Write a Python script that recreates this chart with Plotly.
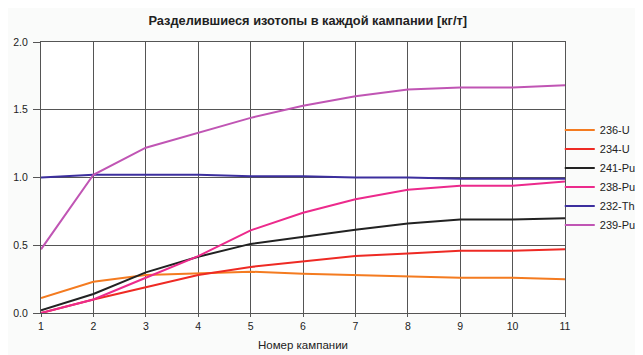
import plotly.graph_objects as go

campaigns = [1, 2, 3, 4, 5, 6, 7, 8, 9, 10, 11]
u236 = [0.11, 0.23, 0.28, 0.295, 0.305, 0.29, 0.28, 0.27, 0.26, 0.26, 0.25]
u234 = [0.0, 0.10, 0.19, 0.28, 0.34, 0.38, 0.42, 0.44, 0.46, 0.46, 0.47]
pu241 = [0.02, 0.14, 0.30, 0.415, 0.51, 0.565, 0.615, 0.66, 0.69, 0.69, 0.70]
pu238 = [0.0, 0.10, 0.26, 0.42, 0.61, 0.74, 0.84, 0.91, 0.94, 0.94, 0.97]
th232 = [1.0, 1.02, 1.02, 1.02, 1.01, 1.01, 1.0, 1.0, 0.99, 0.99, 0.99]
pu239 = [0.47, 1.02, 1.22, 1.33, 1.44, 1.53, 1.60, 1.65, 1.665, 1.665, 1.68]

series = [
    ("236-U", u236, "#f47b20"),
    ("234-U", u234, "#ee2a24"),
    ("241-Pu", pu241, "#222222"),
    ("238-Pu", pu238, "#ec2a8c"),
    ("232-Th", th232, "#3c2f9e"),
    ("239-Pu", pu239, "#c055b4"),
]

fig = go.Figure()
for name, vals, color in series:
    fig.add_trace(go.Scatter(x=campaigns, y=vals, name=name, mode="lines",
                             line=dict(color=color, width=2)))

# The page body adds an 8px margin, so the figure is sized to fit the window.
font = "Liberation Sans, Arial, sans-serif"
fig.update_layout(
    width=635, height=347,
    margin=dict(l=33, r=78, t=34, b=42, autoexpand=False),
    paper_bgcolor="#fafbfa",
    plot_bgcolor="#ffffff",
    font=dict(family=font, size=10.5, color="#222222"),
    title=dict(text="<b>Разделившиеся изотопы в каждой кампании [кг/т]</b>",
               x=0.472, xanchor="center", y=0.965, yanchor="middle",
               font=dict(size=12.8, color="#222222")),
    legend=dict(x=0.99, xanchor="left", y=0.5, yanchor="middle",
                bgcolor="rgba(0,0,0,0)", font=dict(size=11, color="#222222"),
                itemwidth=30, tracegroupgap=0),
    showlegend=True,
)
fig.update_xaxes(range=[1, 11], dtick=1, tick0=1, showgrid=True, gridcolor="#555555",
                 gridwidth=1, showline=True, linecolor="#555555", linewidth=1,
                 mirror=True, ticks="outside", ticklen=3, tickcolor="#555555",
                 zeroline=False,
                 title=dict(text="Номер кампании", font=dict(size=11.5), standoff=10))
fig.update_yaxes(range=[0, 2], dtick=0.5, tickformat=".1f", showgrid=True,
                 gridcolor="#555555", gridwidth=1, showline=True, linecolor="#555555",
                 linewidth=1, mirror=True, ticks="outside", ticklen=7,
                 tickcolor="#555555", zeroline=False, ticklabelstandoff=3)

fig.write_html("out.html")
